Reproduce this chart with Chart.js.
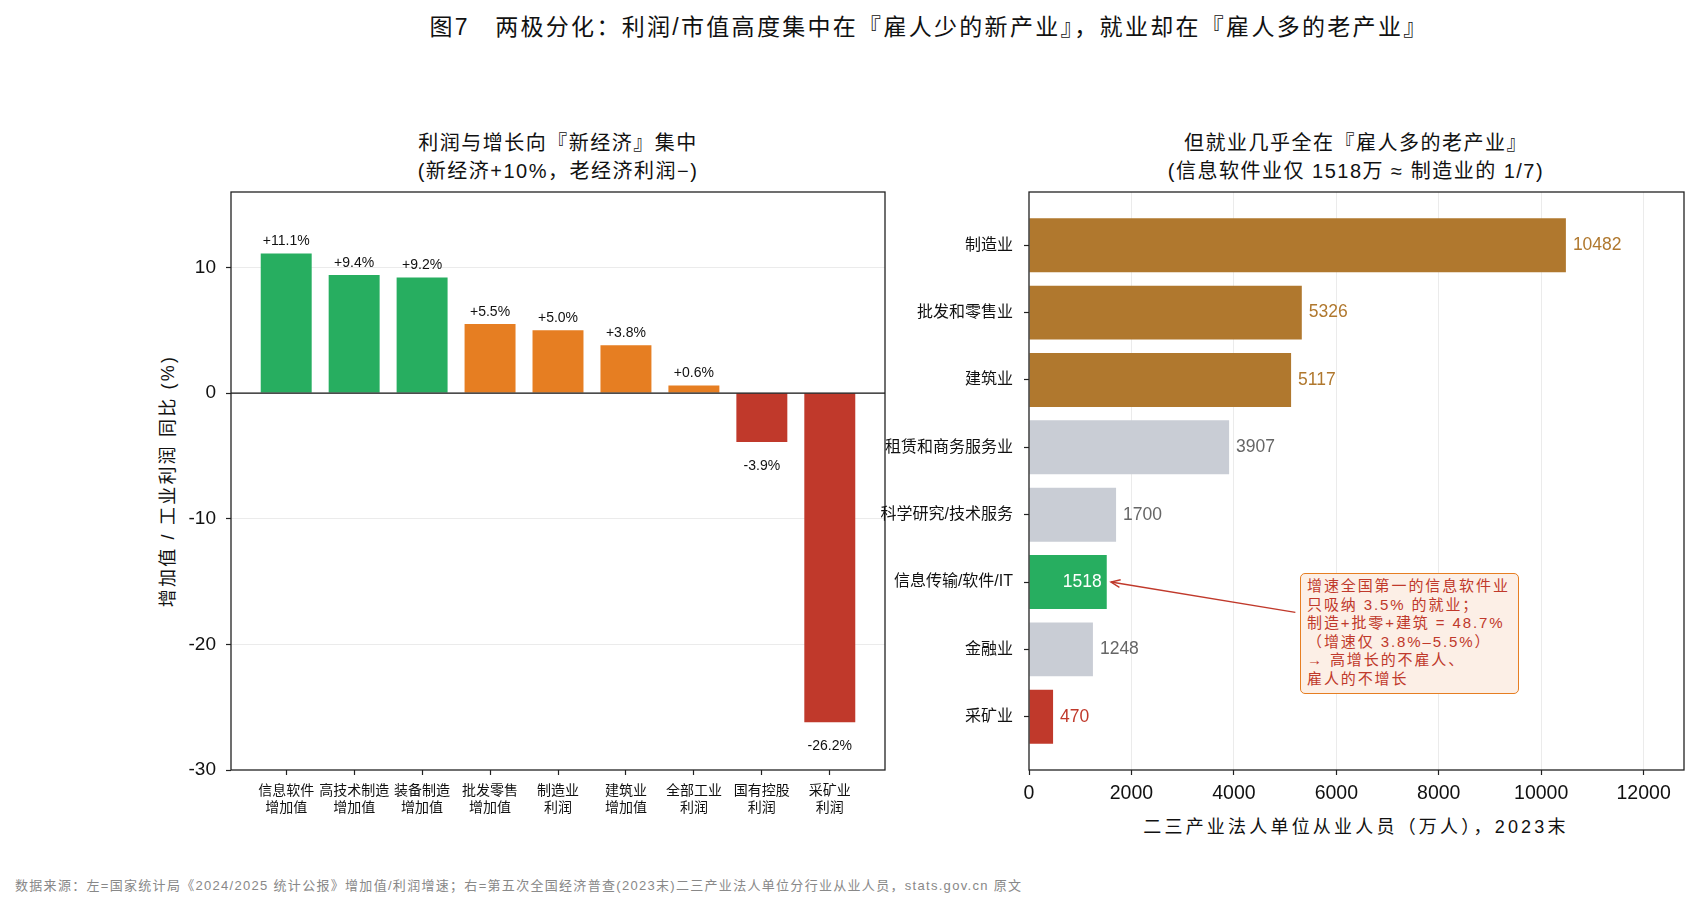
<!DOCTYPE html>
<html>
<head>
<meta charset="utf-8">
<script src="https://cdn.jsdelivr.net/npm/chart.js@4.4.0/dist/chart.umd.min.js"></script>
<style>
    body { margin: 0; background: #fff; width: 1698px; height: 906px; position: relative; overflow: hidden;
           font-family: "Liberation Sans", "Noto Sans CJK SC", sans-serif; color: #111; }
    .abs { position: absolute; white-space: nowrap; }
    canvas { position: absolute; }
    #supTitle { left: 929px; top: 8px; transform: translateX(-50%); font-size: 23px; letter-spacing: 2.3px; }
    .subTitle { top: 129px; transform: translateX(-50%); font-size: 20px; line-height: 28px; text-align: center; letter-spacing: 1.5px; }
    #yTitle { left: 166px; top: 481px; transform: translate(-50%, -50%) rotate(-90deg); font-size: 18px; letter-spacing: 2.2px; }
    #xTitle { left: 1356px; top: 825px; transform: translate(-50%, -50%); font-size: 18px; letter-spacing: 3.2px; }
    #footNote { left: 15px; top: 884px; transform: translateY(-50%); font-size: 13px; letter-spacing: 1.3px; color: #888; }
    #noteBox { left: 1300px; top: 573px; width: 206px; padding: 3px 5px 4px 6px; border: 1.5px solid #e67e22; border-radius: 5px;
               background: #fcefe6; color: #c0392b; font-size: 15px; letter-spacing: 1.9px; line-height: 18.6px; white-space: pre; }
</style>
</head>
<body>
<div class="abs" id="supTitle">图7　两极分化：利润/市值高度集中在『雇人少的新产业』，就业却在『雇人多的老产业』</div>
<div class="abs subTitle" style="left:558px">利润与增长向『新经济』集中<br>(新经济+10%，老经济利润−)</div>
<div class="abs subTitle" style="left:1356px">但就业几乎全在『雇人多的老产业』<br>(信息软件业仅 1518万 ≈ 制造业的 1/7)</div>
<div class="abs" id="yTitle">增加值 / 工业利润 同比 (%)</div>
<div class="abs" id="xTitle">二三产业法人单位从业人员（万人），2023末</div>
<div class="abs" id="footNote">数据来源：左=国家统计局《2024/2025 统计公报》增加值/利润增速；右=第五次全国经济普查(2023末)二三产业法人单位分行业从业人员，stats.gov.cn 原文</div>

<canvas id="leftChart" width="900" height="650" style="left:0;top:180px"></canvas>
<canvas id="rightChart" width="878" height="650" style="left:820px;top:180px"></canvas>

<div class="abs" id="noteBox">增速全国第一的信息软件业
只吸纳 3.5% 的就业；
制造+批零+建筑 = 48.7%
（增速仅 3.8%–5.5%）
→ 高增长的不雇人、
雇人的不增长</div>

<script>
// ─── Data ───
const leftCats = [['信息软件', '增加值'], ['高技术制造', '增加值'], ['装备制造', '增加值'], ['批发零售', '增加值'],
                  ['制造业', '利润'], ['建筑业', '增加值'], ['全部工业', '利润'], ['国有控股', '利润'], ['采矿业', '利润']];
const leftVals = [11.1, 9.4, 9.2, 5.5, 5.0, 3.8, 0.6, -3.9, -26.2];
const leftTicks = [-30, -20, -10, 0, 10];

const rightCats = ['制造业', '批发和零售业', '建筑业', '租赁和商务服务业', '科学研究/技术服务', '信息传输/软件/IT', '金融业', '采矿业'];
const rightVals = [10482, 5326, 5117, 3907, 1700, 1518, 1248, 470];
const rightTicks = [0, 2000, 4000, 6000, 8000, 10000, 12000];

// annotation arrow (data coords): tip at the IT bar end, tail at the note box
const arrowTip = { x: 1600, y: 5 };
const arrowTail = { x: 5200, y: 5.45 };

// ─── Styles ───
const GREEN = '#27ae60', ORANGE = '#e67e22', RED = '#c0392b', BROWN = '#b0782e', GRAY = '#c9cdd5';
const leftColors = [GREEN, GREEN, GREEN, ORANGE, ORANGE, ORANGE, ORANGE, RED, RED];
const rightColors = [BROWN, BROWN, BROWN, GRAY, GRAY, GREEN, GRAY, RED];
const FONT = '"Liberation Sans", "Noto Sans CJK SC", sans-serif';
const GRID = 'rgba(0,0,0,0.08)';

Chart.defaults.font.family = FONT;
Chart.defaults.color = '#111';

// no automatic label padding: plot areas are placed by hand
const fixV = w => s => { s.width = w; s.paddingTop = 0; s.paddingBottom = 0; };
const fixH = h => s => { s.height = h; s.paddingLeft = 0; s.paddingRight = 0; };

// frame around the plot area (matplotlib spines)
const framePlugin = {
    id: 'frame',
    afterDraw(chart) {
        const { ctx, chartArea: a } = chart;
        ctx.save();
        ctx.strokeStyle = '#222';
        ctx.lineWidth = 1.3;
        ctx.strokeRect(a.left, a.top, a.right - a.left, a.bottom - a.top);
        ctx.restore();
    }
};

const zeroLine = {
    id: 'zeroLine',
    afterDatasetsDraw(chart) {
        const { ctx, chartArea: a, scales } = chart;
        const y = scales.y.getPixelForValue(0);
        ctx.save();
        ctx.strokeStyle = '#111';
        ctx.lineWidth = 1.2;
        ctx.beginPath(); ctx.moveTo(a.left, y); ctx.lineTo(a.right, y); ctx.stroke();
        ctx.restore();
    }
};

const leftLabels = {
    id: 'leftLabels',
    afterDatasetsDraw(chart) {
        const { ctx } = chart;
        const meta = chart.getDatasetMeta(0);
        ctx.save();
        ctx.font = `14px ${FONT}`;
        ctx.fillStyle = '#111';
        ctx.textAlign = 'center';
        ctx.textBaseline = 'middle';
        meta.data.forEach((bar, i) => {
            const v = leftVals[i];
            const txt = (v > 0 ? '+' : '') + v.toFixed(1) + '%';
            ctx.fillText(txt, bar.x, v >= 0 ? bar.y - 12 : bar.y + 24);
        });
        ctx.restore();
    }
};

const rightLabels = {
    id: 'rightLabels',
    afterDatasetsDraw(chart) {
        const { ctx } = chart;
        const meta = chart.getDatasetMeta(0);
        ctx.save();
        ctx.font = `17.5px ${FONT}`;
        ctx.textBaseline = 'middle';
        meta.data.forEach((bar, i) => {
            const c = rightColors[i];
            if (c === GREEN) {
                ctx.textAlign = 'right';
                ctx.fillStyle = '#fff';
                ctx.fillText(String(rightVals[i]), bar.x - 5, bar.y);
            } else {
                ctx.textAlign = 'left';
                ctx.fillStyle = c === GRAY ? '#666' : c;
                ctx.fillText(String(rightVals[i]), bar.x + 7, bar.y);
            }
        });
        ctx.restore();
    }
};

const arrowPlugin = {
    id: 'arrow',
    afterDatasetsDraw(chart) {
        const { ctx, scales } = chart;
        const x1 = scales.x.getPixelForValue(arrowTail.x), y1 = scales.y.getPixelForValue(arrowTail.y);
        const x2 = scales.x.getPixelForValue(arrowTip.x), y2 = scales.y.getPixelForValue(arrowTip.y);
        const ang = Math.atan2(y2 - y1, x2 - x1);
        const hl = 10, hw = 0.4;
        ctx.save();
        ctx.strokeStyle = RED;
        ctx.lineWidth = 1.4;
        ctx.beginPath(); ctx.moveTo(x1, y1); ctx.lineTo(x2, y2); ctx.stroke();
        ctx.beginPath();
        ctx.moveTo(x2 - hl * Math.cos(ang - hw), y2 - hl * Math.sin(ang - hw));
        ctx.lineTo(x2, y2);
        ctx.lineTo(x2 - hl * Math.cos(ang + hw), y2 - hl * Math.sin(ang + hw));
        ctx.stroke();
        ctx.restore();
    }
};

// ─── Left: growth rates ───
new Chart(document.getElementById('leftChart'), {
    type: 'bar',
    data: {
        datasets: [{
            data: leftVals.map((v, i) => ({ x: i, y: v })),
            backgroundColor: leftColors,
            barPercentage: 0.75,
            categoryPercentage: 1
        }]
    },
    options: {
        responsive: false,
        animation: false,
        devicePixelRatio: 1,
        layout: { padding: { top: 12, right: 15, left: 0, bottom: 0 } },
        plugins: { legend: { display: false }, tooltip: { enabled: false } },
        scales: {
            x: {
                type: 'linear', min: -0.8125, max: 8.8125, offset: false,
                afterBuildTicks: s => { s.ticks = leftCats.map((_, i) => ({ value: i })); },
                afterFit: fixH(60),
                grid: { offset: false, drawOnChartArea: false, tickLength: 5, tickColor: '#222', tickWidth: 1.2 },
                border: { display: false },
                ticks: { callback: v => leftCats[v], font: { size: 14 }, color: '#111', padding: 8, maxRotation: 0, autoSkip: false }
            },
            y: {
                min: -30, max: 16, z: 1,
                afterBuildTicks: s => { s.ticks = leftTicks.map(v => ({ value: v })); },
                afterFit: fixV(231),
                grid: {
                    color: c => (c.tick && (c.tick.value === 0 || c.tick.value === -30)) ? 'rgba(0,0,0,0)' : GRID,
                    tickColor: '#222', tickLength: 5, tickWidth: 1.2
                },
                border: { display: false },
                ticks: { font: { size: 19 }, color: '#111', padding: 10 }
            }
        }
    },
    plugins: [zeroLine, leftLabels, framePlugin]
});

// ─── Right: employment ───
new Chart(document.getElementById('rightChart'), {
    type: 'bar',
    data: {
        datasets: [{
            data: rightVals.map((v, i) => ({ x: v, y: i })),
            backgroundColor: rightColors,
            barPercentage: 0.8,
            categoryPercentage: 1
        }]
    },
    options: {
        indexAxis: 'y',
        responsive: false,
        animation: false,
        devicePixelRatio: 1,
        layout: { padding: { top: 12, right: 14, left: 0, bottom: 0 } },
        plugins: { legend: { display: false }, tooltip: { enabled: false } },
        scales: {
            y: {
                type: 'linear', reverse: true, min: -0.79, max: 7.79, offset: false,
                afterBuildTicks: s => { s.ticks = rightCats.map((_, i) => ({ value: i })); },
                afterFit: fixV(209),
                grid: { offset: false, drawOnChartArea: false, tickLength: 5, tickColor: '#222', tickWidth: 1.2 },
                border: { display: false },
                ticks: { callback: v => rightCats[v], font: { size: 16 }, color: '#111', padding: 11, autoSkip: false }
            },
            x: {
                min: 0, max: 12788, z: 1,
                afterBuildTicks: s => { s.ticks = rightTicks.map(v => ({ value: v })); },
                afterFit: fixH(60),
                grid: {
                    color: c => (c.tick && c.tick.value === 0) ? 'rgba(0,0,0,0)' : GRID,
                    tickColor: '#222', tickLength: 5, tickWidth: 1.2
                },
                border: { display: false },
                ticks: { callback: v => String(v), font: { size: 19.5 }, color: '#111', padding: 7 }
            }
        }
    },
    plugins: [rightLabels, arrowPlugin, framePlugin]
});
</script>
</body>
</html>
